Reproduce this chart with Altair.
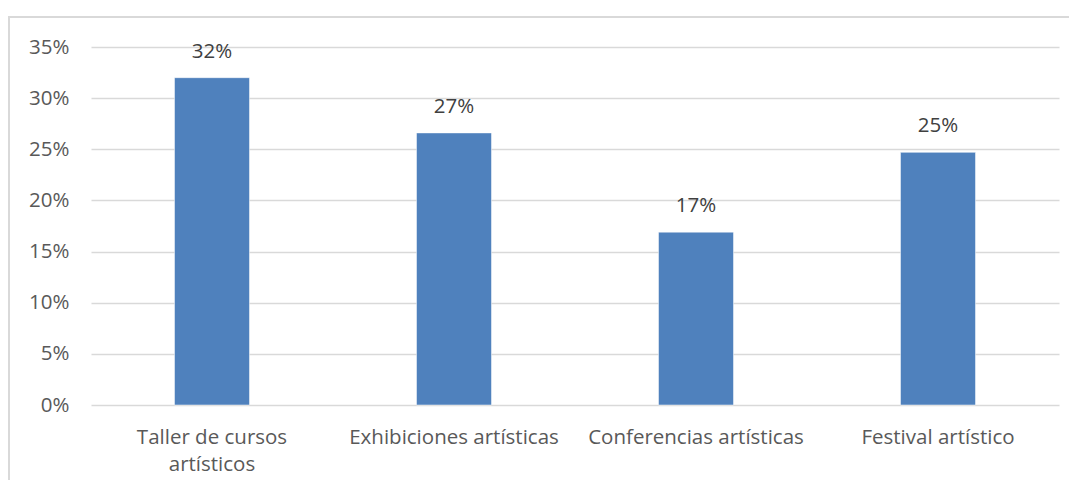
import altair as alt
import pandas as pd

categories = ["Taller de cursos artísticos", "Exhibiciones artísticas",
              "Conferencias artísticas", "Festival artístico"]
values = [0.32, 0.266, 0.169, 0.247]
labels = ["32%", "27%", "17%", "25%"]
y_ticks = [0, 0.05, 0.10, 0.15, 0.20, 0.25, 0.30, 0.35]

df = pd.DataFrame({"cat": categories, "val": values, "lab": labels})

FONT = "Open Sans"
TXT = "#595959"
FS = 20.5

x_enc = alt.X(
    "cat:N", sort=categories, title=None,
    scale=alt.Scale(paddingInner=0.69, paddingOuter=0.345),
    axis=alt.Axis(
        labelAngle=0, labelFontSize=FS, labelColor=TXT, labelFont=FONT,
        labelExpr="datum.value == 'Taller de cursos artísticos' ? ['Taller de cursos', 'artísticos'] : datum.value",
        labelLineHeight=27, labelPadding=22, ticks=False, domain=False, labelLimit=300,
    ),
)
y_enc = alt.Y(
    "val:Q", title=None,
    scale=alt.Scale(domain=[0, 0.35], nice=False),
    axis=alt.Axis(
        values=y_ticks, format=".0%", labelFontSize=FS, labelColor=TXT, labelFont=FONT,
        ticks=False, domain=False, labelPadding=22, gridColor="#d9d9d9", gridWidth=1.5,
    ),
)

bars = alt.Chart(df).mark_bar(color="#4F81BD", stroke="#ffffff", strokeWidth=0.5).encode(x=x_enc, y=y_enc)
text = alt.Chart(df).mark_text(dy=-26, fontSize=FS, color="#404040", font=FONT).encode(
    x=alt.X("cat:N", sort=categories), y="val:Q", text="lab:N"
)
border = alt.Chart(df).mark_rect(fill=None, stroke="#d9d9d9", strokeWidth=2).encode(
    x=alt.value(-82), x2=alt.value(1010), y=alt.value(-30), y2=alt.value(460)
)

chart = alt.layer(border, bars, text).properties(
    width=968, height=358,
    autosize=alt.AutoSizeParams(type="none"),
    padding={"left": 83, "top": 39, "right": 10, "bottom": 75},
).configure(background="white").configure_view(stroke=None)

chart.save("out.html", embed_options={"renderer": "svg", "actions": False})
